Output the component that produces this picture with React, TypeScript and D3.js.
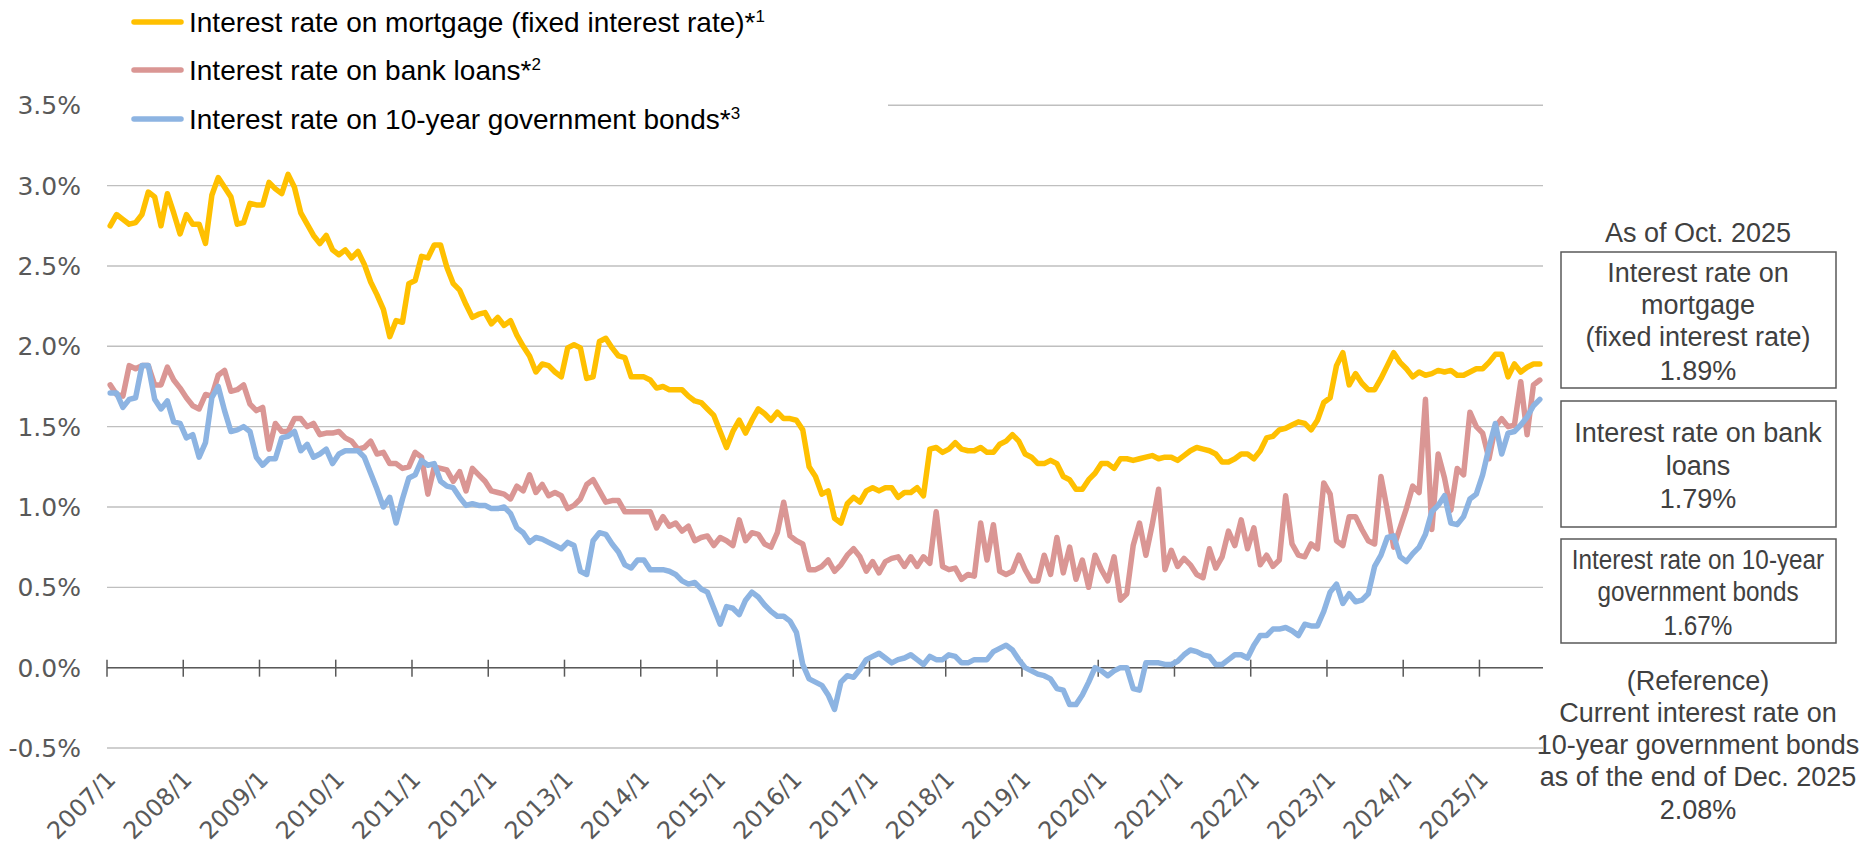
import React from 'react';
import * as d3 from 'd3';

// ---- data (monthly, 2007/1 .. 2025/10) ----
const START_YEAR = 2007;
const months: string[] = Array.from({ length: 226 }, (_, i) => `${START_YEAR + Math.floor(i / 12)}/${(i % 12) + 1}`);

const tickLabels = [
  '2007/1', '2008/1', '2009/1', '2010/1', '2011/1', '2012/1', '2013/1', '2014/1', '2015/1', '2016/1',
  '2017/1', '2018/1', '2019/1', '2020/1', '2021/1', '2022/1', '2023/1', '2024/1', '2025/1',
];
const yTicks = [-0.5, 0, 0.5, 1, 1.5, 2, 2.5, 3, 3.5];

const mortgage = [
  2.75, 2.82, 2.79, 2.76, 2.77, 2.82, 2.96, 2.93, 2.75, 2.95, 2.83, 2.70,
  2.82, 2.76, 2.76, 2.64, 2.94, 3.05, 2.99, 2.93, 2.76, 2.77, 2.89, 2.88,
  2.88, 3.02, 2.98, 2.95, 3.07, 2.99, 2.83, 2.76, 2.69, 2.64, 2.69, 2.60,
  2.57, 2.60, 2.55, 2.59, 2.51, 2.40, 2.32, 2.23, 2.06, 2.16, 2.15, 2.39,
  2.41, 2.56, 2.55, 2.63, 2.63, 2.49, 2.39, 2.35, 2.26, 2.18, 2.20, 2.21,
  2.14, 2.18, 2.13, 2.16, 2.07, 2.00, 1.94, 1.84, 1.89, 1.88, 1.84, 1.81,
  1.99, 2.01, 1.99, 1.80, 1.81, 2.03, 2.05, 1.99, 1.94, 1.93, 1.81, 1.81,
  1.81, 1.79, 1.74, 1.75, 1.73, 1.73, 1.73, 1.69, 1.66, 1.65, 1.61, 1.57,
  1.47, 1.37, 1.47, 1.54, 1.46, 1.54, 1.61, 1.58, 1.54, 1.59, 1.55, 1.55,
  1.54, 1.48, 1.25, 1.19, 1.08, 1.10, 0.93, 0.90, 1.02, 1.06, 1.03, 1.10,
  1.12, 1.10, 1.12, 1.12, 1.06, 1.09, 1.09, 1.12, 1.07, 1.36, 1.37, 1.34,
  1.36, 1.40, 1.36, 1.35, 1.35, 1.37, 1.34, 1.34, 1.39, 1.41, 1.45, 1.41,
  1.33, 1.31, 1.27, 1.27, 1.29, 1.27, 1.19, 1.17, 1.11, 1.11, 1.17, 1.21,
  1.27, 1.27, 1.24, 1.30, 1.30, 1.29, 1.30, 1.31, 1.32, 1.30, 1.31, 1.31,
  1.29, 1.32, 1.35, 1.37, 1.36, 1.35, 1.33, 1.28, 1.28, 1.30, 1.33, 1.33,
  1.30, 1.35, 1.43, 1.44, 1.48, 1.49, 1.51, 1.53, 1.52, 1.48, 1.54, 1.65,
  1.68, 1.88, 1.96, 1.76, 1.83, 1.77, 1.73, 1.73, 1.80, 1.88, 1.96, 1.90,
  1.86, 1.81, 1.84, 1.82, 1.83, 1.85, 1.84, 1.85, 1.82, 1.82, 1.84, 1.86,
  1.86, 1.90, 1.95, 1.95, 1.81, 1.89, 1.84, 1.87, 1.89, 1.89,
];

const bankLoans = [
  1.76, 1.70, 1.69, 1.88, 1.86, 1.88, 1.88, 1.76, 1.76, 1.87, 1.79, 1.74,
  1.68, 1.63, 1.61, 1.70, 1.69, 1.82, 1.85, 1.72, 1.73, 1.76, 1.64, 1.60,
  1.62, 1.36, 1.52, 1.47, 1.47, 1.55, 1.55, 1.50, 1.52, 1.45, 1.46, 1.46,
  1.47, 1.43, 1.41, 1.36, 1.37, 1.41, 1.33, 1.34, 1.27, 1.27, 1.24, 1.25,
  1.34, 1.31, 1.08, 1.25, 1.24, 1.23, 1.16, 1.22, 1.10, 1.24, 1.20, 1.16,
  1.10, 1.09, 1.08, 1.05, 1.13, 1.10, 1.20, 1.09, 1.14, 1.07, 1.09, 1.07,
  0.99, 1.01, 1.05, 1.14, 1.17, 1.10, 1.03, 1.04, 1.04, 0.97, 0.97, 0.97,
  0.97, 0.97, 0.87, 0.94, 0.88, 0.90, 0.85, 0.88, 0.79, 0.81, 0.82, 0.76,
  0.81, 0.79, 0.76, 0.92, 0.79, 0.84, 0.83, 0.77, 0.75, 0.84, 1.03, 0.82,
  0.79, 0.77, 0.61, 0.61, 0.63, 0.67, 0.60, 0.64, 0.70, 0.74, 0.69, 0.60,
  0.66, 0.59, 0.66, 0.68, 0.69, 0.63, 0.69, 0.63, 0.69, 0.65, 0.97, 0.63,
  0.61, 0.62, 0.55, 0.58, 0.57, 0.90, 0.67, 0.89, 0.60, 0.58, 0.60, 0.70,
  0.61, 0.54, 0.54, 0.70, 0.58, 0.81, 0.59, 0.75, 0.55, 0.67, 0.50, 0.70,
  0.61, 0.54, 0.69, 0.42, 0.46, 0.76, 0.90, 0.70, 0.89, 1.11, 0.61, 0.73,
  0.63, 0.68, 0.64, 0.58, 0.56, 0.74, 0.62, 0.69, 0.85, 0.76, 0.92, 0.74,
  0.87, 0.64, 0.70, 0.63, 0.67, 1.07, 0.77, 0.70, 0.69, 0.77, 0.74, 1.15,
  1.08, 0.79, 0.76, 0.94, 0.94, 0.86, 0.79, 0.77, 1.19, 0.98, 0.75, 0.87,
  0.99, 1.13, 1.09, 1.67, 0.86, 1.33, 1.18, 0.98, 1.24, 1.20, 1.59, 1.50,
  1.46, 1.30, 1.50, 1.55, 1.50, 1.51, 1.78, 1.45, 1.76, 1.79,
];

const jgb10y = [
  1.71, 1.71, 1.62, 1.67, 1.68, 1.88, 1.88, 1.67, 1.61, 1.66, 1.53, 1.52,
  1.43, 1.45, 1.31, 1.40, 1.68, 1.75, 1.60, 1.47, 1.48, 1.50, 1.47, 1.31,
  1.26, 1.30, 1.30, 1.43, 1.44, 1.47, 1.35, 1.39, 1.31, 1.33, 1.36, 1.27,
  1.33, 1.35, 1.35, 1.35, 1.31, 1.21, 1.11, 1.00, 1.06, 0.90, 1.05, 1.18,
  1.20, 1.29, 1.26, 1.27, 1.16, 1.13, 1.12, 1.06, 1.01, 1.02, 1.01, 1.01,
  0.99, 0.99, 1.00, 0.96, 0.87, 0.84, 0.78, 0.81, 0.80, 0.78, 0.76, 0.74,
  0.78, 0.76, 0.60, 0.58, 0.79, 0.84, 0.83, 0.77, 0.72, 0.64, 0.62, 0.67,
  0.67, 0.61, 0.61, 0.61, 0.60, 0.58, 0.54, 0.52, 0.53, 0.49, 0.47, 0.37,
  0.27, 0.38, 0.37, 0.33, 0.42, 0.47, 0.44, 0.39, 0.35, 0.32, 0.32, 0.29,
  0.22, 0.02, -0.07, -0.09, -0.11, -0.17, -0.26, -0.09, -0.05, -0.06, -0.01, 0.05,
  0.07, 0.09, 0.06, 0.03, 0.05, 0.06, 0.08, 0.05, 0.02, 0.07, 0.05, 0.05,
  0.08, 0.07, 0.03, 0.03, 0.05, 0.05, 0.05, 0.10, 0.12, 0.14, 0.11, 0.05,
  0.00, -0.02, -0.04, -0.05, -0.07, -0.13, -0.14, -0.23, -0.23, -0.17, -0.09, 0.00,
  -0.02, -0.05, -0.02, 0.00, 0.00, -0.13, -0.14, 0.03, 0.03, 0.03, 0.02, 0.02,
  0.04, 0.08, 0.11, 0.10, 0.08, 0.07, 0.02, 0.02, 0.05, 0.08, 0.08, 0.06,
  0.14, 0.20, 0.20, 0.24, 0.24, 0.25, 0.23, 0.20, 0.27, 0.26, 0.26, 0.35,
  0.47, 0.52, 0.40, 0.46, 0.41, 0.42, 0.46, 0.63, 0.70, 0.81, 0.82, 0.69,
  0.66, 0.71, 0.75, 0.83, 0.97, 1.01, 1.07, 0.90, 0.89, 0.94, 1.05, 1.08,
  1.20, 1.37, 1.52, 1.33, 1.46, 1.47, 1.51, 1.56, 1.63, 1.67,
];

const seriesNames = [
  'Interest rate on mortgage (fixed interest rate)',
  'Interest rate on bank loans',
  'Interest rate on 10-year government bonds',
];
const seriesNotes = ['1', '2', '3'];
const seriesColors = ['#FFC000', '#DA9694', '#8DB4E2'];

const panelTitle = 'As of Oct. 2025';
const box1Lines = ['Interest rate on', 'mortgage', '(fixed interest rate)', '1.89%'];
const box2Lines = ['Interest rate on bank', 'loans', '1.79%'];
const box3Lines = ['Interest rate on 10-year', 'government bonds', '1.67%'];
const refLines = ['(Reference)', 'Current interest rate on', '10-year government bonds', 'as of the end of Dec. 2025', '2.08%'];

const SANS = '"Liberation Sans", Arial, sans-serif';
const AXISFONT = '"DejaVu Sans", Verdana, sans-serif';

export default function App() {
  const W = 1863;
  const H = 847;
  const left = 107;
  const right = 1543;
  const N = months.length;
  const x = d3.scaleLinear().domain([-0.5, N - 0.5]).range([left, right]);
  const y = d3.scaleLinear().domain([-0.5, 3.5]).range([748, 105.3]);
  const line = d3
    .line<number>()
    .x((_, i) => x(i))
    .y((d) => y(d));

  const series = [mortgage, bankLoans, jgb10y];
  const y0 = y(0);
  const tickIdx = tickLabels.map((t) => months.indexOf(t));

  const panelCx = 1698;
  const panelFill = '#404040';
  const fs = 27;

  const boxText = (lines: string[], baselines: number[], sx = 1) =>
    lines.map((t, i) => (
      <text
        key={i}
        x={panelCx}
        y={baselines[i]}
        textAnchor="middle"
        fontFamily={SANS}
        fontSize={fs}
        fill={panelFill}
        transform={sx !== 1 ? `translate(${panelCx},0) scale(${sx},1) translate(${-panelCx},0)` : undefined}
      >
        {t}
      </text>
    ));

  return (
    <svg
      width={W}
      height={H}
      viewBox={`0 0 ${W} ${H}`}
      style={{ position: 'absolute', left: 0, top: 0, background: '#fff' }}
    >
      <rect x={0} y={0} width={W} height={H} fill="#fff" />
      {/* gridlines */}
      {yTicks.map((v) => (
        <line key={v} x1={left} x2={right} y1={y(v)} y2={y(v)} stroke="#BFBFBF" strokeWidth={1.4} />
      ))}
      {/* y labels */}
      {yTicks.map((v) => (
        <text
          key={'l' + v}
          x={81}
          y={y(v)}
          dy="0.36em"
          textAnchor="end"
          fontFamily={AXISFONT}
          fontSize={25}
          fill="#595959"
        >
          {v.toFixed(1)}%
        </text>
      ))}
      {/* x axis */}
      <line x1={left} x2={right} y1={y0} y2={y0} stroke="#595959" strokeWidth={1.5} />
      {tickIdx.map((i) => (
        <line key={'t' + i} x1={x(i - 0.5)} x2={x(i - 0.5)} y1={y0 - 8} y2={y0 + 9} stroke="#595959" strokeWidth={1.5} />
      ))}
      {tickIdx.map((i, k) => (
        <text
          key={'x' + i}
          transform={`translate(${x(i - 0.5) + 10},${781}) rotate(-45)`}
          textAnchor="end"
          fontFamily={AXISFONT}
          fontSize={24}
          fill="#595959"
        >
          {tickLabels[k]}
        </text>
      ))}
      {/* series */}
      {series.map((s, k) => (
        <path
          key={'s' + k}
          d={line(s) || ''}
          fill="none"
          stroke={seriesColors[k]}
          strokeWidth={5.5}
          strokeLinejoin="round"
          strokeLinecap="round"
        />
      ))}
      {/* legend */}
      <rect x={100} y={0} width={788} height={132} fill="#fff" />
      {seriesNames.map((name, k) => {
        const cy = [22, 70, 119][k];
        return (
          <g key={'lg' + k}>
            <line x1={134} x2={181} y1={cy} y2={cy} stroke={seriesColors[k]} strokeWidth={5.5} strokeLinecap="round" />
            <text x={189} y={cy + 10} fontFamily={SANS} fontSize={28} fill="#000">
              {name}*
              <tspan fontSize={17} dy={-10}>
                {seriesNotes[k]}
              </tspan>
            </text>
          </g>
        );
      })}
      {/* right panel */}
      <text x={panelCx} y={242} textAnchor="middle" fontFamily={SANS} fontSize={fs} fill={panelFill}>
        {panelTitle}
      </text>
      <rect x={1561} y={252} width={275} height={136} fill="none" stroke="#595959" strokeWidth={1.5} />
      {boxText(box1Lines, [282, 314, 346, 380])}
      <rect x={1561} y={401} width={275} height={126} fill="none" stroke="#595959" strokeWidth={1.5} />
      {boxText(box2Lines, [442, 475, 508])}
      <rect x={1561} y={539} width={275} height={104} fill="none" stroke="#595959" strokeWidth={1.5} />
      {boxText(box3Lines, [569, 601, 635], 0.9)}
      {boxText(refLines, [690, 722, 754, 786, 819])}
    </svg>
  );
}
